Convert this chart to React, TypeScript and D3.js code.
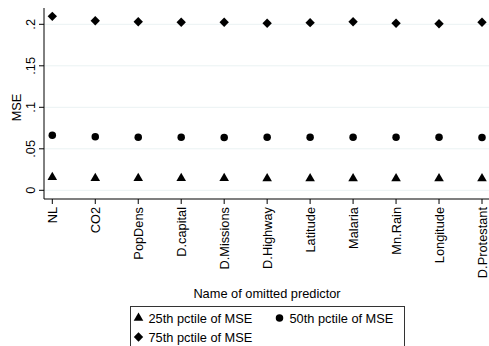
import { useEffect, useRef } from 'react';
import * as d3 from 'd3';

const predictors = ['NL', 'CO2', 'PopDens', 'D.capital', 'D.Missions', 'D.Highway', 'Latitude', 'Malaria', 'Mn.Rain', 'Longitude', 'D.Protestant'];
const p25 = [0.0157, 0.0145, 0.0145, 0.0145, 0.0145, 0.0142, 0.0142, 0.0142, 0.0142, 0.0142, 0.0142];
const p50 = [0.0663, 0.0646, 0.0639, 0.0639, 0.0637, 0.0639, 0.0639, 0.0639, 0.0639, 0.0639, 0.0635];
const p75 = [0.2096, 0.2043, 0.2031, 0.2024, 0.2024, 0.2012, 0.2020, 0.2031, 0.2012, 0.2007, 0.2024];
const yTicks = [0, 0.05, 0.1, 0.15, 0.2];
const yTickLabels = ['0', '.05', '.1', '.15', '.2'];

export default function App() {
    const svgRef = useRef<SVGSVGElement>(null);

    useEffect(() => {
        const svg = d3.select(svgRef.current);
        svg.selectAll('*').remove();
        const W = 489, H = 346;
        const font = 'Liberation Sans, Arial, Helvetica, sans-serif';
        const fs = 12.8;

        const left = 44, right = 489, top = 8, bottom = 199;

        const x = d3.scalePoint<string>().domain(predictors).range([52.3, 482]);
        const y = d3.scaleLinear().domain([0, 0.2]).range([190.3, 24.3]);

        svg.append('rect').attr('width', W).attr('height', H).attr('fill', '#fff');

        // gridlines
        svg.append('g').selectAll('line').data(yTicks).join('line')
            .attr('x1', left).attr('x2', right)
            .attr('y1', d => y(d)).attr('y2', d => y(d))
            .attr('stroke', '#eaf2f3').attr('stroke-width', 1);

        // y axis
        const ya = svg.append('g').attr('transform', `translate(${left},0)`);
        ya.append('line').attr('y1', top).attr('y2', bottom).attr('stroke', '#000');
        ya.selectAll('.t').data(yTicks).join('line').attr('class', 't')
            .attr('x1', -5).attr('x2', 0).attr('y1', d => y(d)).attr('y2', d => y(d))
            .attr('stroke', '#000');
        ya.selectAll('text').data(yTicks).join('text')
            .attr('transform', d => `translate(-9,${y(d)}) rotate(-90)`)
            .attr('text-anchor', 'middle')
            .attr('font-family', font).attr('font-size', fs)
            .text((d, i) => yTickLabels[i]);

        svg.append('text')
            .attr('transform', `translate(20.5,${(top + bottom) / 2 + 4}) rotate(-90)`)
            .attr('text-anchor', 'middle')
            .attr('font-family', font).attr('font-size', fs)
            .text('MSE');

        // x axis
        const xa = svg.append('g').attr('transform', `translate(0,${bottom})`);
        xa.append('line').attr('x1', left).attr('x2', right).attr('stroke', '#000');
        xa.selectAll('.t').data(predictors).join('line').attr('class', 't')
            .attr('x1', d => x(d)!).attr('x2', d => x(d)!).attr('y1', 0).attr('y2', 5)
            .attr('stroke', '#000');
        xa.selectAll('text').data(predictors).join('text')
            .attr('transform', d => `translate(${x(d)! + 4.5},8) rotate(-90)`)
            .attr('text-anchor', 'end')
            .attr('font-family', font).attr('font-size', fs)
            .text(d => d);

        svg.append('text')
            .attr('x', 267).attr('y', 297.5)
            .attr('text-anchor', 'middle')
            .attr('font-family', font).attr('font-size', fs)
            .text('Name of omitted predictor');

        // markers
        const tri = d3.symbol().type(d3.symbolTriangle).size(40);
        const circ = d3.symbol().type(d3.symbolCircle).size(44);
        const dia = d3.symbol().type(d3.symbolSquare).size(44);

        svg.append('g').selectAll('path').data(p25).join('path')
            .attr('transform', (d, i) => `translate(${x(predictors[i])},${y(d)})`)
            .attr('d', tri()).attr('fill', '#000');
        svg.append('g').selectAll('path').data(p50).join('path')
            .attr('transform', (d, i) => `translate(${x(predictors[i])},${y(d)})`)
            .attr('d', circ()).attr('fill', '#000');
        svg.append('g').selectAll('path').data(p75).join('path')
            .attr('transform', (d, i) => `translate(${x(predictors[i])},${y(d)}) rotate(45)`)
            .attr('d', dia()).attr('fill', '#000');

        // legend
        const lg = svg.append('g');
        lg.append('rect').attr('x', 130.5).attr('y', 306.5).attr('width', 274).attr('height', 45)
            .attr('fill', '#fff').attr('stroke', '#333');
        const items = [
            { label: '25th pctile of MSE', sym: tri(), x: 138.5, y: 318, rot: 0 },
            { label: '50th pctile of MSE', sym: circ(), x: 279.5, y: 318, rot: 0 },
            { label: '75th pctile of MSE', sym: dia(), x: 138.5, y: 337, rot: 45 },
        ];
        items.forEach(it => {
            lg.append('path').attr('d', it.sym)
                .attr('transform', `translate(${it.x},${it.y}) rotate(${it.rot})`)
                .attr('fill', '#000');
            lg.append('text').attr('x', it.x + 10).attr('y', it.y + 4.5)
                .attr('font-family', font).attr('font-size', fs)
                .text(it.label);
        });
    }, []);

    return (
        <svg ref={svgRef} width={489} height={346}
            style={{ position: 'absolute', left: 0, top: 0, display: 'block' }} />
    );
}
